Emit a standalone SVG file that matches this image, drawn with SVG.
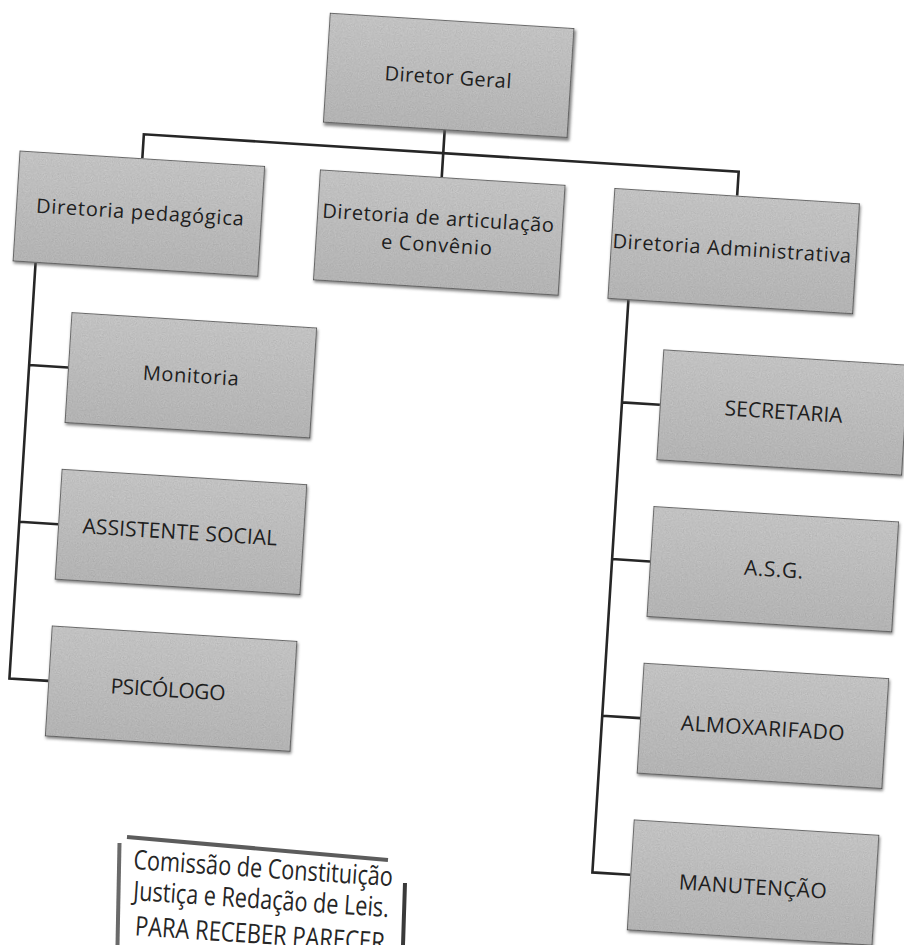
<svg xmlns="http://www.w3.org/2000/svg" width="904" height="945" viewBox="0 0 904 945">
  <defs>
    <linearGradient id="boxFill" x1="0" y1="0" x2="0" y2="1">
      <stop offset="0" stop-color="#cecece"/>
      <stop offset="1" stop-color="#bebebe"/>
    </linearGradient>
    <filter id="grain" x="0" y="0" width="100%" height="100%">
      <feTurbulence type="fractalNoise" baseFrequency="0.85" numOctaves="2" seed="3" result="n"/>
      <feColorMatrix in="n" type="matrix" values="0 0 0 0 0  0 0 0 0 0  0 0 0 0 0  0 0 0 0.35 -0.05" result="na"/>
      <feComposite in="na" in2="SourceGraphic" operator="in" result="nc"/>
      <feMerge><feMergeNode in="SourceGraphic"/><feMergeNode in="nc"/></feMerge>
    </filter>
    <filter id="shadow" x="-5%" y="-5%" width="115%" height="120%">
      <feGaussianBlur stdDeviation="1.5"/>
    </filter>
  </defs>
  <style>
    .box { fill: url(#boxFill); stroke: #4a4a4a; stroke-width: 1.4; filter: url(#grain); }
    .shd { fill: #5a5a5a; opacity: 0.75; filter: url(#shadow); }
    .lbl { font-family: "Open Sans", "DejaVu Sans", sans-serif; font-size: 20px; fill: #1e1e1e; text-anchor: middle; }
    .cap { font-size: 21px; }
    .conn { fill: none; stroke: #262626; stroke-width: 2.6; stroke-linejoin: miter; }
    .stamp { font-family: "Open Sans", "Liberation Sans", sans-serif; font-size: 27px; fill: #262626; }
    .frame { fill: none; stroke-linecap: butt; }
  </style>
  <rect x="0" y="0" width="904" height="945" fill="#ffffff"/>

  <g transform="rotate(3.6)">
    <g id="connectors">
      <path class="conn" d="M452 102 V149"/>
      <path class="conn" d="M152 149 V125 H748 V149"/>
      <path class="conn" d="M52 260 V676.5 H91 M52 362.5 H91 M52 519.5 H91"/>
      <path class="conn" d="M646 260 V833.5 H684 M646 362.5 H684 M646 519.5 H684 M646 676.5 H684"/>
    </g>

    <g id="diretor-geral">
      <rect class="shd" x="331" y="-6" width="246" height="111"/>
      <rect class="box" x="330" y="-8" width="245" height="110"/>
      <text class="lbl" x="452" y="56" textLength="127">Diretor Geral</text>
    </g>

    <g id="diretoria-pedagogica">
      <rect class="shd" x="30" y="151" width="246" height="111"/>
      <rect class="box" x="29" y="149" width="246" height="111"/>
      <text class="lbl" x="153" y="210" textLength="208">Diretoria pedagógica</text>
    </g>

    <g id="diretoria-articulacao">
      <rect class="shd" x="331" y="151" width="246" height="111"/>
      <rect class="box" x="330" y="149" width="246" height="111"/>
      <text class="lbl" x="451" y="197" textLength="232">Diretoria de articulação</text>
      <text class="lbl" x="451" y="224" textLength="111">e Convênio</text>
    </g>

    <g id="diretoria-administrativa">
      <rect class="shd" x="626" y="151" width="246" height="111"/>
      <rect class="box" x="625" y="149" width="246" height="111"/>
      <text class="lbl" x="746" y="209" textLength="239">Diretoria Administrativa</text>
    </g>

    <g id="monitoria">
      <rect class="shd" x="92" y="309" width="246" height="111"/>
      <rect class="box" x="91" y="307" width="246" height="111"/>
      <text class="lbl" x="214" y="370" textLength="96">Monitoria</text>
    </g>

    <g id="assistente-social">
      <rect class="shd" x="92" y="466" width="246" height="111"/>
      <rect class="box" x="91" y="464" width="246" height="111"/>
      <text class="lbl cap" x="213" y="527" textLength="195">ASSISTENTE SOCIAL</text>
    </g>

    <g id="psicologo">
      <rect class="shd" x="92" y="623" width="246" height="111"/>
      <rect class="box" x="91" y="621" width="246" height="111"/>
      <text class="lbl cap" x="211" y="685" textLength="115">PSICÓLOGO</text>
    </g>

    <g id="secretaria">
      <rect class="shd" x="685" y="309" width="246" height="111"/>
      <rect class="box" x="684" y="307" width="246" height="111"/>
      <text class="lbl cap" x="808" y="369" textLength="118">SECRETARIA</text>
    </g>

    <g id="asg">
      <rect class="shd" x="685" y="466" width="246" height="111"/>
      <rect class="box" x="684" y="464" width="246" height="111"/>
      <text class="lbl cap" x="808" y="527" textLength="59">A.S.G.</text>
    </g>

    <g id="almoxarifado">
      <rect class="shd" x="685" y="623" width="246" height="111"/>
      <rect class="box" x="684" y="621" width="246" height="111"/>
      <text class="lbl cap" x="807" y="686" textLength="164">ALMOXARIFADO</text>
    </g>

    <g id="manutencao">
      <rect class="shd" x="685" y="780" width="246" height="111"/>
      <rect class="box" x="684" y="778" width="246" height="111"/>
      <text class="lbl cap" x="807" y="845" textLength="148">MANUTENÇÃO</text>
    </g>
  </g>

  <g id="stamp">
    <path class="frame" d="M127 837 L388 860" stroke="#5c5c5c" stroke-width="4"/>
    <path class="frame" d="M119.5 843 L117.5 945" stroke="#6a6a6a" stroke-width="4"/>
    <path class="frame" d="M405 883 L403 945" stroke="#3a3a3a" stroke-width="4"/>
    <g transform="rotate(3.8 133 868)">
      <text class="stamp" x="133" y="869" textLength="260" lengthAdjust="spacingAndGlyphs">Comissão de Constituição</text>
      <text class="stamp" x="135" y="900" textLength="256" lengthAdjust="spacingAndGlyphs">Justiça e Redação de Leis.</text>
      <text class="stamp" x="139" y="935" textLength="250" lengthAdjust="spacingAndGlyphs">PARA RECEBER PARECER</text>
    </g>
  </g>
</svg>
